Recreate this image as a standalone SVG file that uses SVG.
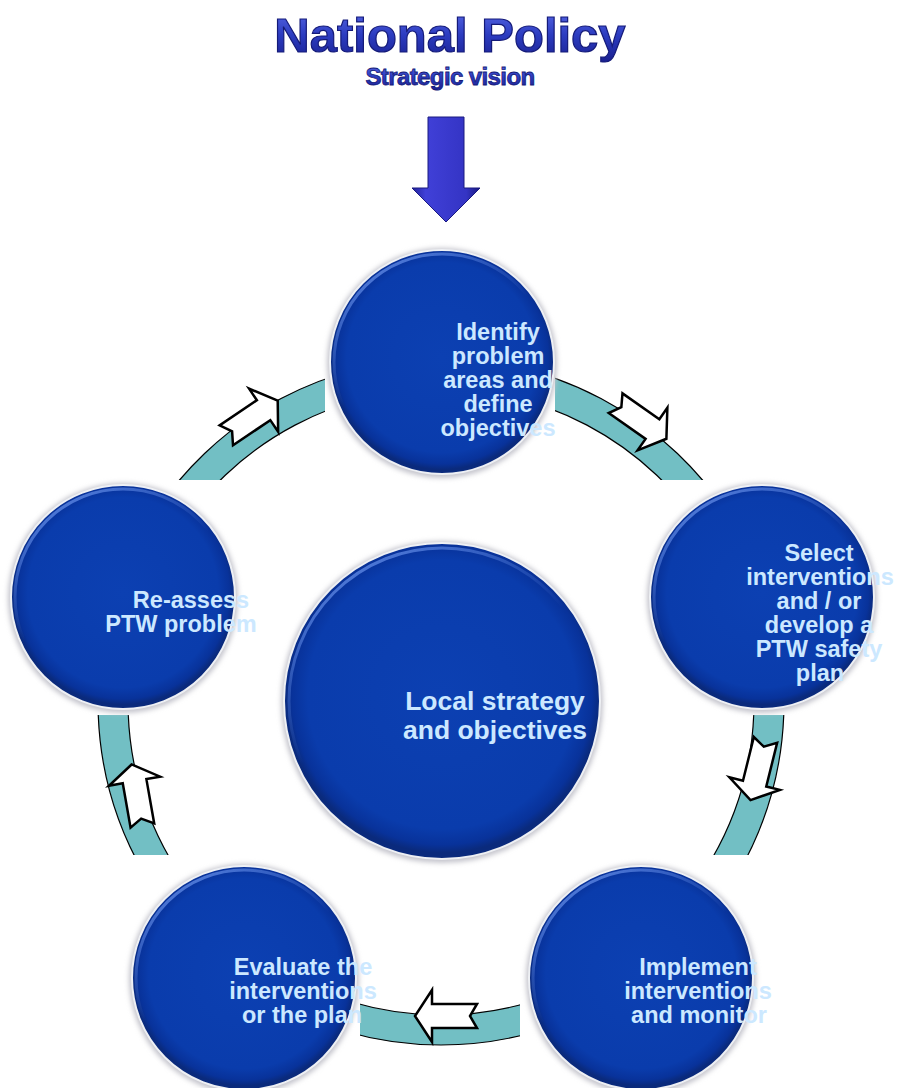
<svg xmlns="http://www.w3.org/2000/svg" width="897" height="1088" viewBox="0 0 897 1088">
<defs>
<radialGradient id="ball" cx="50%" cy="48%" r="50%">
<stop offset="0" stop-color="#0c40b2"/>
<stop offset="0.85" stop-color="#0a3cac"/>
<stop offset="0.95" stop-color="#08329a"/>
<stop offset="1" stop-color="#0a2a7c"/>
</radialGradient>
<linearGradient id="rim" x1="0.2" y1="0" x2="0.8" y2="1">
<stop offset="0" stop-color="#6a94ee" stop-opacity="0.8"/>
<stop offset="0.45" stop-color="#6a94ee" stop-opacity="0"/>
</linearGradient>
<linearGradient id="titleG" x1="0" y1="0" x2="0" y2="1">
<stop offset="0" stop-color="#5a6ae6"/>
<stop offset="0.5" stop-color="#2c3cc0"/>
<stop offset="1" stop-color="#1a2090"/>
</linearGradient>
<linearGradient id="arrowG" x1="0" y1="0" x2="1" y2="0">
<stop offset="0" stop-color="#22229a"/>
<stop offset="0.2" stop-color="#4040d8"/>
<stop offset="0.8" stop-color="#3434c4"/>
<stop offset="1" stop-color="#1a1a80"/>
</linearGradient>
<filter id="shadow" x="-20%" y="-20%" width="140%" height="140%">
<feGaussianBlur stdDeviation="2.5"/>
</filter>
<polygon id="blk" points="31,0 14,-26 14,-12 -31,-12 -24,0 -31,12 14,12 14,26"/>
<style>
.halo{fill:#c4c4cc;filter:url(#shadow)}
.ball{fill:url(#ball);stroke:#eef0f4;stroke-width:2}
.rim{fill:none;stroke:url(#rim);stroke-width:3}
.lbl{font-family:"Liberation Sans",Arial,sans-serif;font-weight:bold;font-size:23.5px;fill:#cce8ff;text-anchor:middle}
.big{font-size:26.5px}
.ring{fill:#72bfc4;stroke:#000;stroke-width:1.2;fill-rule:evenodd}
.cut{fill:#ffffff}
.blk{fill:#ffffff;stroke:#000;stroke-width:2.5;stroke-linejoin:miter}
</style>
</defs>
<rect width="897" height="1088" fill="#ffffff"/>

<g id="title">
<text x="450" y="52" font-family="Liberation Sans,Arial,sans-serif" font-weight="bold" font-size="49" text-anchor="middle" fill="url(#titleG)" stroke="#141a78" stroke-width="1.2">National Policy</text>
<text x="450" y="85" font-family="Liberation Sans,Arial,sans-serif" font-weight="bold" font-size="24" letter-spacing="-0.6" text-anchor="middle" fill="url(#titleG)" stroke="#141a78" stroke-width="0.8">Strategic vision</text>
</g>

<g id="down-arrow">
<polygon points="428,117 464,117 464,188 480,188 446,222 412,188 428,188" fill="url(#arrowG)" stroke="#1a1a80" stroke-width="1"/>
</g>

<g id="connectors">
<path class="ring" d="M441,359 a343,343 0 1,0 0.01,0 Z M441,389 a313,313 0 1,0 0.01,0 Z"/>
<rect class="cut" x="325" y="240" width="230" height="240"/>
<rect class="cut" x="650" y="480" width="247" height="235"/>
<rect class="cut" x="0" y="480" width="240" height="235"/>
<rect class="cut" x="520" y="855" width="377" height="233"/>
<rect class="cut" x="0" y="855" width="360" height="233"/>
<use href="#blk" class="blk" transform="translate(252,418) rotate(-34)"/>
<use href="#blk" class="blk" transform="translate(641,421) rotate(35)"/>
<use href="#blk" class="blk" transform="translate(758,770) rotate(104)"/>
<use href="#blk" class="blk" transform="translate(446,1016) rotate(180)"/>
<use href="#blk" class="blk" transform="translate(137,795) rotate(-100)"/>
</g>

<g id="node-center">
<circle class="halo" cx="442" cy="702" r="161"/>
<circle class="ball" cx="442" cy="701" r="158"/>
<circle class="rim" cx="442" cy="701" r="153"/>
<text class="lbl big" x="495" y="710">Local strategy</text>
<text class="lbl big" x="495" y="739">and objectives</text>
</g>

<g id="node-identify">
<circle class="halo" cx="442" cy="363" r="115"/>
<circle class="ball" cx="442" cy="362" r="112"/>
<circle class="rim" cx="442" cy="362" r="108"/>
<text class="lbl" x="498" y="340">Identify</text>
<text class="lbl" x="498" y="364">problem</text>
<text class="lbl" x="498" y="388">areas and</text>
<text class="lbl" x="498" y="412">define</text>
<text class="lbl" x="498" y="436">objectives</text>
</g>

<g id="node-select">
<circle class="halo" cx="762" cy="598" r="115"/>
<circle class="ball" cx="762" cy="597" r="112"/>
<circle class="rim" cx="762" cy="597" r="108"/>
<text class="lbl" x="819" y="561">Select</text>
<text class="lbl" x="820" y="585">interventions</text>
<text class="lbl" x="819" y="609">and / or</text>
<text class="lbl" x="819" y="633">develop a</text>
<text class="lbl" x="819" y="657">PTW safety</text>
<text class="lbl" x="820" y="681">plan</text>
</g>

<g id="node-implement">
<circle class="halo" cx="641" cy="979" r="115"/>
<circle class="ball" cx="641" cy="978" r="112"/>
<circle class="rim" cx="641" cy="978" r="108"/>
<text class="lbl" x="698" y="975">Implement</text>
<text class="lbl" x="698" y="999">interventions</text>
<text class="lbl" x="699" y="1023">and monitor</text>
</g>

<g id="node-evaluate">
<circle class="halo" cx="244" cy="979" r="115"/>
<circle class="ball" cx="244" cy="978" r="112"/>
<circle class="rim" cx="244" cy="978" r="108"/>
<text class="lbl" x="303" y="975">Evaluate the</text>
<text class="lbl" x="303" y="999">interventions</text>
<text class="lbl" x="302" y="1023">or the plan</text>
</g>

<g id="node-reassess">
<circle class="halo" cx="123" cy="598" r="115"/>
<circle class="ball" cx="123" cy="597" r="112"/>
<circle class="rim" cx="123" cy="597" r="108"/>
<text class="lbl" x="191" y="608">Re-assess</text>
<text class="lbl" x="181" y="632">PTW problem</text>
</g>
</svg>
